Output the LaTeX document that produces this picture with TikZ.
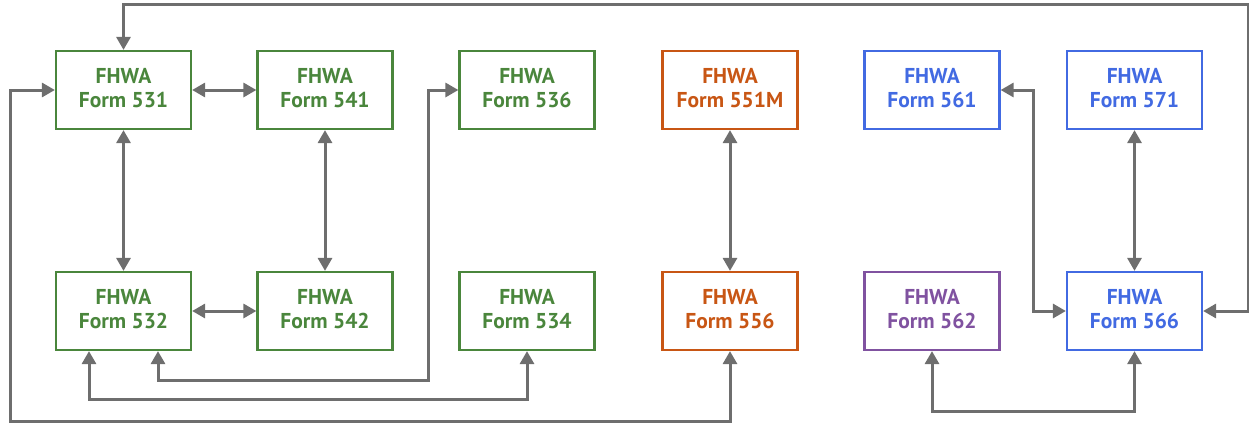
\documentclass[tikz,border=0pt]{standalone}
\usepackage{fontspec}
\setmainfont{PT Sans}
\usetikzlibrary{arrows.meta}
\definecolor{cgreen}{RGB}{74,134,60}
\definecolor{corange}{RGB}{200,86,20}
\definecolor{cblue}{RGB}{66,106,226}
\definecolor{cpurple}{RGB}{128,82,160}
\definecolor{cgray}{RGB}{110,110,110}
\tikzset{
  formbox/.style={draw=#1, line width=2.2pt, minimum width=135pt, minimum height=78pt,
    inner sep=0pt},
  formtext/.style={text=#1, align=center, inner sep=0pt, font=\fontsize{21.5}{24}\selectfont\bfseries},
  conn/.style={draw=cgray, line width=3pt, {Triangle[length=13pt,width=14pt]}-{Triangle[length=13pt,width=14pt]}},
}
\newcommand{\formnode}[4]{%
  \node[formbox=#2] (#1) at #3 {};
  \node[formtext=#2] (#1t) at ([yshift=2pt]#1.center) {FHWA\\Form #4};}
\begin{document}
\begin{tikzpicture}[x=1pt,y=-1pt]
\useasboundingbox (0,0) rectangle (1249,423);
% top row
\formnode{f531}{cgreen}{(123.5,90)}{531}
\formnode{f541}{cgreen}{(325,90)}{541}
\formnode{f536}{cgreen}{(527,90)}{536}
\formnode{f551}{corange}{(730,90)}{551M}
\formnode{f561}{cblue}{(932,90)}{561}
\formnode{f571}{cblue}{(1134.5,90)}{571}
% bottom row
\formnode{f532}{cgreen}{(123.5,311)}{532}
\formnode{f542}{cgreen}{(325,311)}{542}
\formnode{f534}{cgreen}{(527,311)}{534}
\formnode{f556}{corange}{(730,311)}{556}
\formnode{f562}{cpurple}{(932,311)}{562}
\formnode{f566}{cblue}{(1134.5,311)}{566}
% connectors
\draw[conn] (f531) -- (f541);
\draw[conn] (f531) -- (f532);
\draw[conn] (f541) -- (f542);
\draw[conn] (f532) -- (f542);
\draw[conn] (f551) -- (f556);
\draw[conn] (f571) -- (f566);
\draw[conn] (f566.east) -- (1248,311) -- (1248,4) -- (123.5,4) -- (f531.north);
\draw[conn] ([xshift=34.5pt]f532.south) -- (158,380) -- (428,380) -- (428,90) -- (f536.west);
\draw[conn] ([xshift=-34.5pt]f532.south) -- (89,399) -- (527,399) -- (f534.south);
\draw[conn] (f531.west) -- (10,90) -- (10,421) -- (730,421) -- (f556.south);
\draw[conn] (f561.east) -- (1033,90) -- (1033,311) -- (f566.west);
\draw[conn] (f562.south) -- (932,411) -- (1134.5,411) -- (f566.south);
\end{tikzpicture}
\end{document}
